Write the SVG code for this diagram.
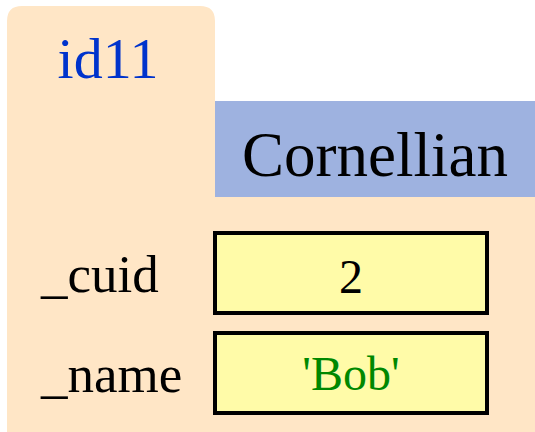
<svg xmlns="http://www.w3.org/2000/svg" width="535" height="432" viewBox="0 0 535 432">
<style>
.serif{font-family:"Liberation Serif","Times New Roman",serif;}
.field{fill:#FFFBA8;stroke:#000;stroke-width:4;}
.lbl{font-size:53px;fill:#000;}
</style>
<g id="object">
<path d="M7,432 V21 Q7,6 22,6 H200 Q215,6 215,21 V101 H535 V432 Z" fill="#FFE6C6"/>
<text class="serif" x="108" y="78" font-size="58" fill="#0033CC" text-anchor="middle">id11</text>
</g>
<g id="class">
<rect x="215" y="101" width="320" height="96" fill="#9EB2E0"/>
<text class="serif" x="375" y="176" font-size="63" fill="#000" text-anchor="middle">Cornellian</text>
</g>
<g id="cuid">
<text class="serif lbl" x="41" y="292">_cuid</text>
<rect class="field" x="215" y="233" width="272" height="80"/>
<text class="serif" x="351" y="293" font-size="48" fill="#000" text-anchor="middle">2</text>
</g>
<g id="name">
<text class="serif lbl" x="41" y="392">_name</text>
<rect class="field" x="215" y="333" width="272" height="80"/>
<text class="serif" x="351" y="390" font-size="48" fill="#008800" text-anchor="middle">'Bob'</text>
</g>
<g id="connectors"/>
</svg>
